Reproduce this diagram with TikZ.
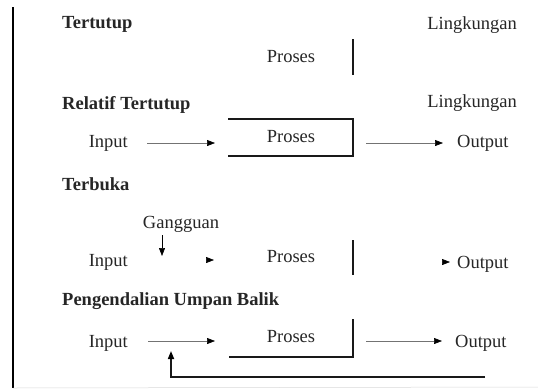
\documentclass[tikz,border=0pt]{standalone}
\usepackage{fontspec}
\setmainfont{Liberation Serif}
\usetikzlibrary{arrows.meta}
\begin{document}
\begin{tikzpicture}[x=1pt,y=-1pt,
  txt/.style={inner sep=0pt,text=black!85,font=\fontsize{18.5}{20}\selectfont},
  ttl/.style={txt,font=\fontsize{18.5}{20}\selectfont\bfseries,anchor=base west},
  lbl/.style={txt,anchor=base},
  tip/.style={-{Triangle[length=8pt,width=6pt,color=black]}},
  flow/.style={draw=black!55,line width=0.6pt,tip},
  boxline/.style={draw=black!90,line width=1.6pt},
]
\useasboundingbox (0,0) rectangle (538,389);
\fill[white] (0,0) rectangle (538,389);
% frame
\coordinate (fTop) at (13,7);
\coordinate (fBot) at (13,388);
\coordinate (fRight) at (538,387);
\draw[line width=2.5pt,black] (fTop) -- (fBot);
\draw[line width=0.5pt,black!15] (fBot) -- (fRight);

% ---- Tertutup
\node[ttl] (t1) at (62,28) {Tertutup};
\node[lbl,anchor=base east] (l1) at (517,29) {Lingkungan};
\node[lbl] (p1) at (291,62) {Proses};
\coordinate (b1a) at (353,39);
\coordinate (b1b) at (353,75);
\draw[boxline] (b1a) -- (b1b);

% ---- Relatif Tertutup
\node[ttl] (t2) at (62,109) {Relatif Tertutup};
\node[lbl,anchor=base east] (l2) at (517,107) {Lingkungan};
\node[lbl,anchor=base east] (i2) at (128,147) {Input};
\node[lbl] (p2) at (291,142) {Proses};
\node[lbl,anchor=base west] (o2) at (457,147) {Output};
\coordinate (b2a) at (228,119);
\coordinate (b2b) at (353,119);
\coordinate (b2c) at (353,156);
\coordinate (b2d) at (228,156);
\draw[boxline] (b2a) -- (b2b) -- (b2c) -- (b2d);
\coordinate (a2s) at (147,143);
\coordinate (a2e) at (215,143);
\coordinate (c2s) at (366,143);
\coordinate (c2e) at (443,143);
\draw[flow] (a2s) -- (a2e);
\draw[flow] (c2s) -- (c2e);

% ---- Terbuka
\node[ttl] (t3) at (62,190) {Terbuka};
\node[lbl] (g3) at (181,228) {Gangguan};
\coordinate (g3s) at (162,235);
\coordinate (g3e) at (162,256);
\draw[flow,draw=black] (g3s) -- (g3e);
\node[lbl,anchor=base east] (i3) at (128,266) {Input};
\node[lbl] (p3) at (291,262) {Proses};
\node[lbl,anchor=base west] (o3) at (457,268) {Output};
\coordinate (b3a) at (353,240);
\coordinate (b3b) at (353,275);
\draw[boxline] (b3a) -- (b3b);
\coordinate (a3s) at (205,260);
\coordinate (a3e) at (214,260);
\coordinate (c3s) at (441,262);
\coordinate (c3e) at (450,262);
\draw[flow,draw=white] (a3s) -- (a3e);
\draw[flow,draw=white] (c3s) -- (c3e);

% ---- Pengendalian Umpan Balik
\node[ttl] (t4) at (62,305) {Pengendalian Umpan Balik};
\node[lbl,anchor=base east] (i4) at (128,347) {Input};
\node[lbl] (p4) at (291,342) {Proses};
\node[lbl,anchor=base west] (o4) at (455,347) {Output};
\coordinate (b4a) at (353,319);
\coordinate (b4b) at (353,357);
\coordinate (b4c) at (229,357);
\draw[boxline] (b4a) -- (b4b) -- (b4c);
\coordinate (a4s) at (148,341);
\coordinate (a4e) at (215,341);
\coordinate (c4s) at (366,341);
\coordinate (c4e) at (442,341);
\draw[flow] (a4s) -- (a4e);
\draw[flow] (c4s) -- (c4e);
\coordinate (fb1) at (485,377);
\coordinate (fb2) at (171,377);
\coordinate (fb3) at (171,351);
\draw[boxline,tip] (fb1) -- (fb2) -- (fb3);
\end{tikzpicture}
\end{document}
